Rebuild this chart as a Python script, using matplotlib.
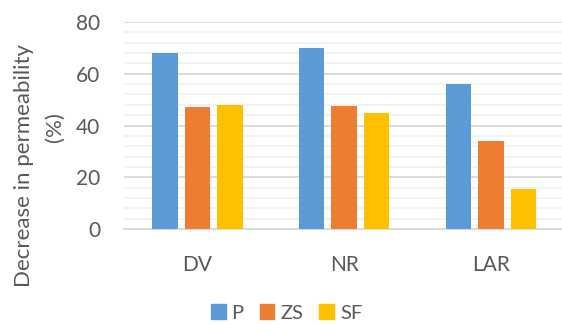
import matplotlib
matplotlib.use("Agg")
import matplotlib.pyplot as plt
from matplotlib.patches import Patch
import numpy as np

categories = ["DV", "NR", "LAR"]
series_names = ["P", "ZS", "SF"]
p_values = [68, 70, 56]
zs_values = [47, 47.5, 34]
sf_values = [48, 45, 15.5]
colors = ["#5B9BD5", "#ED7D31", "#FFC000"]

TEXT = "#595959"
plt.rcParams['font.family'] = ['Lato', 'DejaVu Sans']

fig = plt.figure(figsize=(5.62, 3.24), dpi=100)
ax = fig.add_axes([0.2206, 0.2932, 0.7834, 0.6389])

x = np.arange(len(categories))
width = 0.174
step = 0.222
for i, (vals, col) in enumerate(zip([p_values, zs_values, sf_values], colors)):
    ax.bar(x + (i - 1) * step, vals, width, color=col, zorder=3)

ax.set_xlim(-0.5, 2.5)
ax.set_ylim(0, 80)
ax.set_yticks(np.arange(0, 81, 20))
ax.set_yticks(np.arange(0, 81, 4), minor=True)
ax.set_xticks(x)
ax.set_xticklabels(categories)

ax.grid(axis="y", which="major", color="#D9D9D9", lw=1.3, zorder=0)
ax.grid(axis="y", which="minor", color="#F2F2F2", lw=1.3, zorder=0)
for s in ["top", "right", "left"]:
    ax.spines[s].set_visible(False)
ax.spines["bottom"].set_color("#D9D9D9")
ax.spines["bottom"].set_linewidth(1.3)

ax.tick_params(axis="both", which="both", length=0, colors=TEXT, labelsize=15)
ax.tick_params(axis="y", pad=17)
ax.tick_params(axis="x", pad=19)

# two-line y title, second line sits a little higher than the first
fig.text(0.043, 0.489, "Decrease in permeability", rotation=90,
         ha="center", va="center", fontsize=16, color=TEXT)
fig.text(0.098, 0.608, "(%)", rotation=90,
         ha="center", va="center", fontsize=16, color=TEXT)

handles = [Patch(color=c) for c in colors]
fig.legend(handles, series_names, loc="center", bbox_to_anchor=(0.51, 0.034),
           ncol=3, frameon=False, fontsize=14.5, labelcolor=TEXT,
           handlelength=0.72, handleheight=0.72, handletextpad=0.3,
           columnspacing=0.8, borderpad=0)

fig.savefig("out.png", dpi=100)
